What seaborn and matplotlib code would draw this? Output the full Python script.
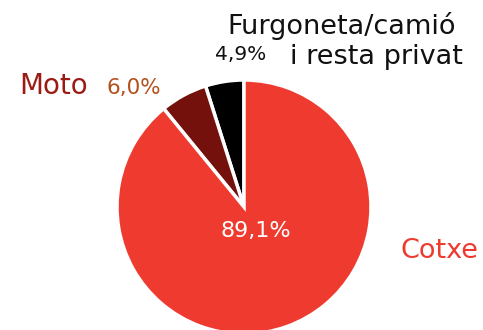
import matplotlib
matplotlib.use("Agg")
import matplotlib.pyplot as plt
import seaborn as sns

# Modal share of private vehicles
categories = ["Furgoneta/camió\ni resta privat", "Moto", "Cotxe"]
shares = [4.9, 6.0, 89.1]
share_labels = ["4,9%", "6,0%", "89,1%"]

sns.set_theme(style="white")
plt.rcParams["font.family"] = ["DejaVu Sans"]

slice_colors = ["#000000", "#74110D", "#EE3A2F"]

W, H = 483, 330
fig = plt.figure(figsize=(W / 100, H / 100), dpi=100)
ax = fig.add_axes([0, 0, 1, 1])

ax.pie(
    shares,
    colors=slice_colors,
    startangle=90,
    counterclock=True,
    center=(244, H - 207),
    radius=127,
    wedgeprops=dict(edgecolor="white", linewidth=2.5),
    frame=True,
)
ax.set_xlim(0, W)
ax.set_ylim(0, H)
ax.set_aspect("equal")
ax.axis("off")

# category names (the two-line label is set line by line, right-aligned)
for line, right, baseline in zip(categories[0].split("\n"), [456, 463], [34, 64]):
    ax.text(right, H - baseline, line, ha="right", va="baseline", fontsize=19.5,
            color="#111111")
ax.text(19, H - 86, categories[1], ha="left", va="center", fontsize=20,
        color="#9B1B14")
ax.text(479, H - 251, categories[2], ha="right", va="center", fontsize=19.5,
        color="#EE3A2F")

# percentage labels
ax.text(241, H - 55, share_labels[0], ha="center", va="center", fontsize=14.5,
        color="#111111")
ax.text(134, H - 88, share_labels[1], ha="center", va="center", fontsize=15.5,
        color="#B4501C")
ax.text(256, H - 231, share_labels[2], ha="center", va="center", fontsize=16,
        color="white")

fig.savefig("out.png", dpi=100)
